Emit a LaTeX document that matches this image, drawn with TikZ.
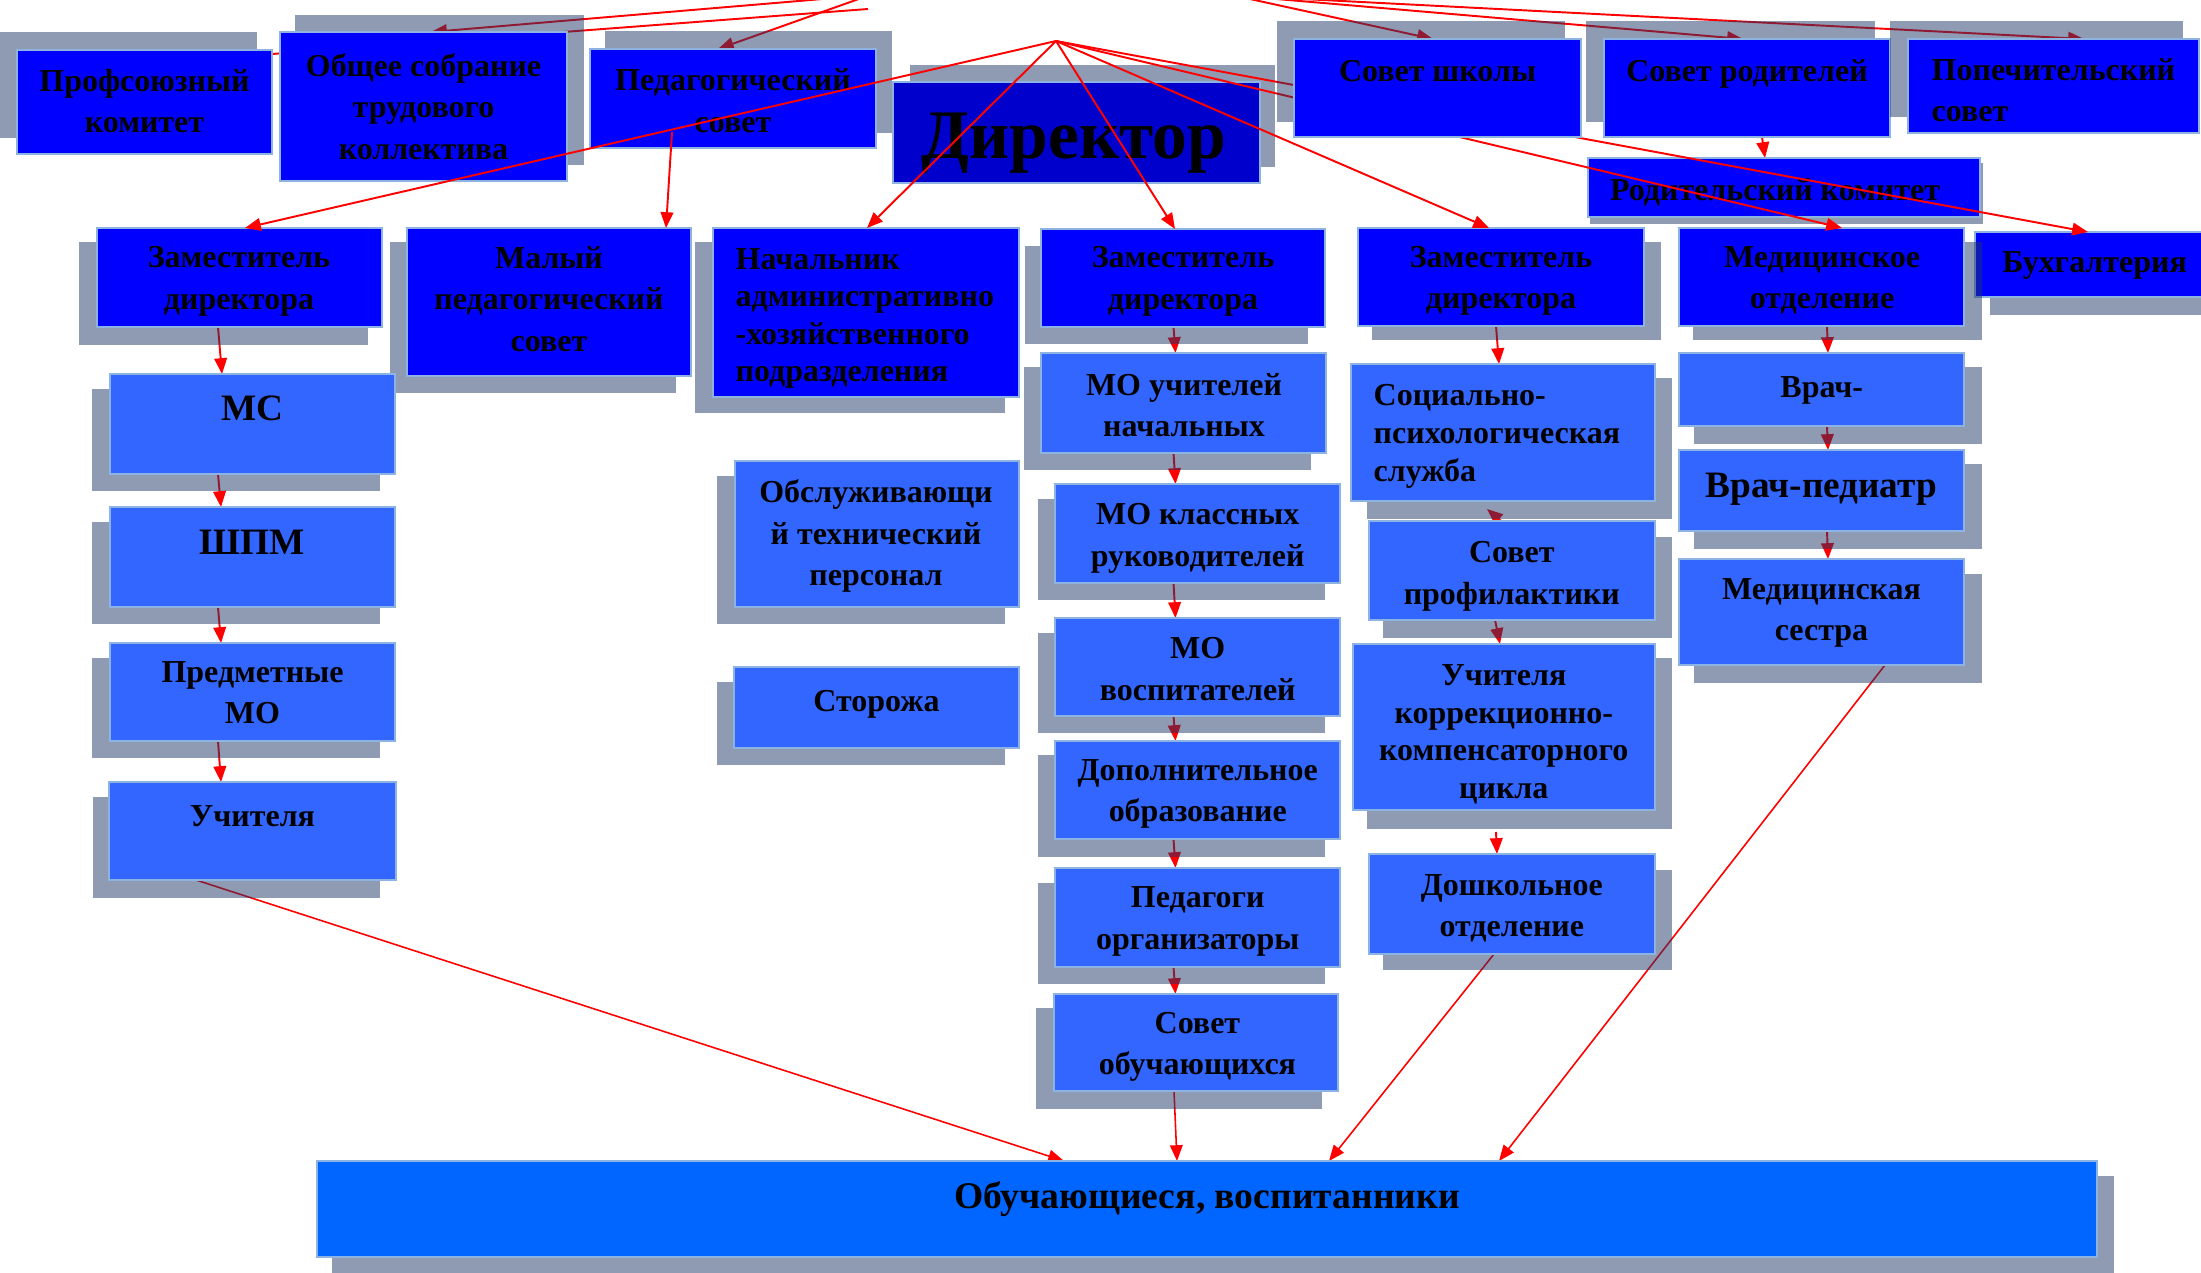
\documentclass[tikz,border=0pt]{standalone}
\usepackage{fontspec}
\setmainfont{Liberation Serif}
\usetikzlibrary{fit,calc,arrows.meta}
\pgfdeclarelayer{c0}
\pgfdeclarelayer{c1}
\pgfdeclarelayer{up}
\pgfdeclarelayer{c2}
\pgfsetlayers{c0,main,c1,up,c2}
\definecolor{dkb}{HTML}{0000FF}
\definecolor{dirb}{HTML}{0000CC}
\definecolor{ltb}{HTML}{3366FF}
\definecolor{obb}{HTML}{0066FF}
\definecolor{brd}{HTML}{8DB3E2}
\definecolor{shdc}{HTML}{1F3667}
\begin{document}
\begin{tikzpicture}[x=0.1mm,y=-0.1mm,
  shd/.style={fill=shdc, fill opacity=0.5},
  dk/.style={draw=brd, line width=0.8pt, fill=dkb, inner sep=0pt, outer sep=0pt},
  lt/.style={dk, fill=ltb},
  txt/.style={inner sep=0pt, anchor=north, align=center, font=\bfseries\fontsize{9.1}{11.8}\selectfont, execute at begin node=\strut},
  txtl/.style={txt, anchor=north west, align=left},
  tight/.style={font=\bfseries\fontsize{9.1}{10.7}\selectfont},
  big/.style={font=\bfseries\fontsize{10.6}{12.6}\selectfont},
  conn/.style={draw=red, line width=0.55pt, -{Triangle[length=4.5pt,width=3.6pt]}},
  plainln/.style={draw=red, line width=0.55pt}]
\useasboundingbox (0,0) rectangle (2201,1272);
\clip (0,0) rectangle (2201,1272);
\coordinate (hub) at (1056,41);
\coordinate (srcA) at (870,-5);
\coordinate (srcB) at (868,9);
\coordinate (srcR1) at (1227,-6);
\coordinate (srcR2) at (1218,-6);
\coordinate (srcR3) at (1205,-6);
\coordinate (pm) at (672,132);
\coordinate (spt) at (1487,509);
\coordinate (uk1) at (1496,832);

% ---------- top row ----------
\fill[shd] (0,32) rectangle (257,138);
\node[dk, fit={(17,50)(272,154)}] (prof) {};
\node[txt] (proft) at (144.5,68.5) {Профсоюзный\\комитет};

\fill[shd] (295,15) rectangle (584,165);
\node[dk, fit={(280,32)(567,181)}] (obsh) {};
\node[txt] (obsht) at (423.5,52.5) {Общее собрание\\трудового\\коллектива};

\fill[shd] (605,31) rectangle (892,133);
\node[dk, fit={(590,49)(876,148)}] (ped) {};
\node[txt] (pedt) at (733,68.2) {Педагогический\\совет};

\fill[shd] (910,65) rectangle (1275,167);
\node[dk, fill=dirb, fit={(893,82)(1260,183)}] (dir) {};
\node[txt, font=\bfseries\fontsize{19.8}{25}\selectfont] (dirt) at (1074,96.5) {Директор};

\fill[shd] (1586,21) rectangle (1875,122);
\node[dk, fit={(1604,39)(1890,137)}] (srod) {};
\node[txt] (srodt) at (1747,51.5) {Совет родителей};

\fill[shd] (1890,21) rectangle (2183,117);
\node[dk, fit={(1908,39)(2199,133)}] (popech) {};
\node[txtl] (popecht) at (1931,57.5) {Попечительский\\совет};

\fill[shd] (1590,163) rectangle (1983,224);
\node[dk, fit={(1588,158)(1980,217)}] (rodkom) {};
\node[txt] (rodkomt) at (1775,170.8) {Родительский комитет};

% ---------- second row ----------
\fill[shd] (79,242) rectangle (368,345);
\node[dk, fit={(97,228)(382,327)}] (zam1) {};
\node[txt] (zam1t) at (239,245.8) {Заместитель\\директора};

\fill[shd] (390,242) rectangle (676,393);
\node[dk, fit={(407,228)(691,376)}] (maly) {};
\node[txt] (malyt) at (549,245.8) {Малый\\педагогический\\совет};

\fill[shd] (695,242) rectangle (1005,413);
\node[dk, fit={(713,228)(1019,397)}] (nach) {};
\node[txtl, tight] (nacht) at (735,247.5) {Начальник\\административно\\-хозяйственного\\подразделения};

\fill[shd] (1025,246) rectangle (1308,344);
\node[dk, fit={(1041,229)(1325,327)}] (zam2) {};
\node[txt] (zam2t) at (1183,245.8) {Заместитель\\директора};

\fill[shd] (1372,242) rectangle (1661,340);
\node[dk, fit={(1358,228)(1644,326)}] (zam3) {};
\node[txt] (zam3t) at (1501,245.5) {Заместитель\\директора};

\fill[shd] (1990,240) rectangle (2201,315);
\node[dk, fit={(1975,232)(2205,297)}] (buh) {};
\node[txt] (buht) at (2094.6,243.2) {Бухгалтерия};

\fill[shd] (1693,242) rectangle (1982,340);
\node[dk, fit={(1679,228)(1964,326)}] (med) {};
\node[txt] (medt) at (1822,245.5) {Медицинское\\отделение};

% ---------- column 1 ----------
\fill[shd] (92,389) rectangle (380,491);
\node[lt, fit={(110,374)(395,474)}] (ms) {};
\node[txt, big] (mst) at (252.5,389) {МС};

\fill[shd] (92,522) rectangle (380,624);
\node[lt, fit={(110,507)(395,607)}] (shpm) {};
\node[txt, big] (shpmt) at (252.5,522.3) {ШПМ};

\fill[shd] (92,658) rectangle (380,758);
\node[lt, fit={(110,643)(395,741)}] (predm) {};
\node[txt] (predmt) at (252.5,660.8) {Предметные\\МО};

\fill[shd] (93,797) rectangle (380,898);
\node[lt, fit={(109,782)(396,880)}] (uch) {};
\node[txt] (ucht) at (252.5,796.5) {Учителя};

% ---------- AHP column ----------
\fill[shd] (717,476) rectangle (1005,624);
\node[lt, fit={(735,461)(1019,607)}] (obsl) {};
\node[txt] (obslt) at (876,479.2) {Обслуживающи\\й технический\\персонал};

\fill[shd] (717,682) rectangle (1005,765);
\node[lt, fit={(734,667)(1019,748)}] (storozh) {};
\node[txt] (storozht) at (876.5,681.5) {Сторожа};

% ---------- column 2 ----------
\fill[shd] (1024,367) rectangle (1311,470);
\node[lt, fit={(1041,353)(1326,453)}] (mouch) {};
\node[txt] (moucht) at (1184,372.5) {МО учителей\\начальных};

\fill[shd] (1038,499) rectangle (1325,600);
\node[lt, fit={(1055,484)(1340,583)}] (mokl) {};
\node[txt] (moklt) at (1197.7,502.9) {МО классных\\руководителей};

\fill[shd] (1038,633) rectangle (1325,733);
\node[lt, fit={(1055,618)(1340,716)}] (movos) {};
\node[txt] (movost) at (1197.7,636.9) {МО\\воспитателей};

\fill[shd] (1038,755) rectangle (1325,857);
\node[lt, fit={(1055,741)(1340,839)}] (dop) {};
\node[txt] (dopt) at (1197.7,758.5) {Дополнительное\\образование};

\fill[shd] (1038,883) rectangle (1325,984);
\node[lt, fit={(1055,868)(1340,967)}] (pedorg) {};
\node[txt] (pedorgt) at (1197.7,886) {Педагоги\\организаторы};

\fill[shd] (1036,1008) rectangle (1322,1109);
\node[lt, fit={(1054,994)(1338,1091)}] (sovob) {};
\node[txt] (sovobt) at (1197.4,1011.5) {Совет\\обучающихся};

% ---------- column 3 ----------
\fill[shd] (1367,378) rectangle (1672,519);
\node[lt, fit={(1351,364)(1655,501)}] (socps) {};
\node[txtl, tight] (socpst) at (1373,384.1) {Социально-\\психологическая\\служба};

\fill[shd] (1383,537) rectangle (1672,638);
\node[lt, fit={(1369,521)(1655,620)}] (sovprof) {};
\node[txt] (sovproft) at (1511.8,540.9) {Совет\\профилактики};

\fill[shd] (1367,658) rectangle (1672,829);
\node[lt, fit={(1353,644)(1655,810)}] (uchkor) {};
\node[txt, tight] (uchkort) at (1503.8,664) {Учителя\\коррекционно-\\компенсаторного\\цикла};

\fill[shd] (1383,870) rectangle (1672,970);
\node[lt, fit={(1369,854)(1655,954)}] (dosh) {};
\node[txt] (dosht) at (1511.8,873.5) {Дошкольное\\отделение};

% ---------- column 4 ----------
\fill[shd] (1694,367) rectangle (1982,444);
\node[lt, fit={(1679,353)(1964,426)}] (vrach) {};
\node[txt] (vracht) at (1821.7,367.5) {Врач-};

\fill[shd] (1694,464) rectangle (1982,549);
\node[lt, fit={(1679,450)(1964,531)}] (vrped) {};
\node[txt, big] (vrpedt) at (1821.5,465.4) {Врач-педиатр};

\fill[shd] (1694,574) rectangle (1982,683);
\node[lt, fit={(1679,559)(1964,665)}] (medses) {};
\node[txt] (medsest) at (1821.5,577.5) {Медицинская\\сестра};

% ---------- bottom ----------
\fill[shd] (332,1176) rectangle (2114,1280);
\node[lt, fill=obb, fit={(317,1161)(2097,1257)}] (obuch) {};
\node[txt, font=\bfseries\fontsize{10.7}{12}\selectfont] (obucht) at (1207,1178.5) {Обучающиеся, воспитанники};

% ---------- Совет школы (above two hub lines) ----------
\begin{pgfonlayer}{up}
\fill[shd] (1277,21) rectangle (1565,122);
\node[dk, fit={(1294,39)(1581,137)}] (sshk) {};
\node[txt] (sshkt) at (1437.5,51.5) {Совет школы};
\end{pgfonlayer}

% ---------- connectors under the boxes ----------
\begin{pgfonlayer}{c0}
\draw[plainln] (srcB) -- (prof.east |- 0,54);
\draw[conn] (srcA) -- (431,0 |- obsh.north);
\draw[conn] (srcA) -- (718,0 |- ped.north);
\draw[conn] (srcR1) -- (1433,0 |- sshk.north);
\draw[conn] (srcR2) -- (1743,0 |- srod.north);
\draw[conn] (srcR3) -- (2084,0 |- popech.north);
\draw[conn] (1762,0 |- srod.south) -- (1765,0 |- rodkom.north);
\draw[conn] (218,0 |- zam1.south) -- (222,0 |- ms.north);
\draw[conn] (218,0 |- ms.south) -- (221,0 |- shpm.north);
\draw[conn] (218,0 |- shpm.south) -- (221,0 |- predm.north);
\draw[conn] (218,0 |- predm.south) -- (221,0 |- uch.north);
\draw[conn] (1173.5,0 |- zam2.south) -- (1175.5,0 |- mouch.north);
\draw[conn] (1173.5,0 |- mouch.south) -- (1175.5,0 |- mokl.north);
\draw[conn] (1173.5,0 |- mokl.south) -- (1175.5,0 |- movos.north);
\draw[conn] (1173.5,0 |- movos.south) -- (1175.5,0 |- dop.north);
\draw[conn] (1173.5,0 |- dop.south) -- (1175.5,0 |- pedorg.north);
\draw[conn] (1173.5,0 |- pedorg.south) -- (1175.5,0 |- sovob.north);
\draw[conn, line width=0.45pt] (1174,0 |- sovob.south) -- (1177,0 |- obuch.north);
\draw[conn] (1496,0 |- zam3.south) -- (1499,0 |- socps.north);
\draw[conn] (1501,0 |- sovprof.north) -- (spt);
\draw[conn] (1495,0 |- sovprof.south) -- (1500,0 |- uchkor.north);
\draw[conn] (uk1) -- (1497,0 |- dosh.north);
\draw[conn] (1827,0 |- med.south) -- (1828,0 |- vrach.north);
\draw[conn] (1827,0 |- vrach.south) -- (1828,0 |- vrped.north);
\draw[conn] (1827,0 |- vrped.south) -- (1828,0 |- medses.north);
\draw[conn, line width=0.45pt] (196,0 |- uch.south) -- (1064,0 |- obuch.north);
\draw[conn, line width=0.45pt] (1494,0 |- dosh.south) -- (1329,0 |- obuch.north);
\draw[conn, line width=0.45pt] (1885,0 |- medses.south) -- (1499,0 |- obuch.north);
\end{pgfonlayer}

% ---------- hub lines passing under Совет школы ----------
\begin{pgfonlayer}{c1}
\draw[conn] (hub) -- (1842,0 |- med.north);
\draw[conn] (hub) -- (2088,0 |- buh.north);
\end{pgfonlayer}

% ---------- connectors on top ----------
\begin{pgfonlayer}{c2}
\draw[conn] (hub) -- (245,0 |- zam1.north);
\draw[conn] (hub) -- (867,0 |- nach.north);
\draw[conn] (hub) -- (1175,0 |- zam2.north);
\draw[conn] (hub) -- (1489,0 |- zam3.north);
\draw[conn] (pm) -- (666,0 |- maly.north);
\end{pgfonlayer}
\end{tikzpicture}
\end{document}
